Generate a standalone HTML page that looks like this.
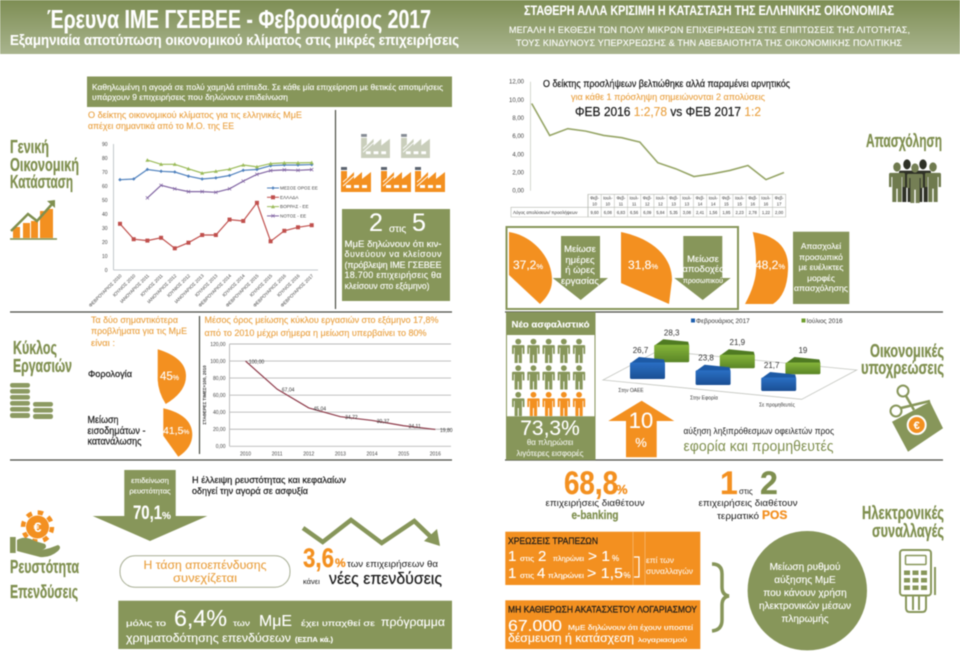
<!DOCTYPE html>
<html lang="el">
<head>
<meta charset="utf-8">
<title>Έρευνα ΙΜΕ ΓΣΕΒΕΕ - Φεβρουάριος 2017</title>
<style>
html,body{margin:0;padding:0;background:#fff;width:960px;height:667px;overflow:hidden}
svg{display:block;filter:blur(.4px)}
text{font-family:"Liberation Sans","Noto Sans CJK SC",sans-serif}
.n{font-family:"Liberation Sans Narrow","Liberation Sans",sans-serif;font-weight:700;stroke:currentColor;stroke-width:.25}
.b{font-weight:700}
.w{fill:#fff;color:#fff;stroke:#fff;stroke-width:.12}
.o{fill:#e9a040;color:#e9a040;stroke:#e9a040;stroke-width:.12}
.ol{fill:#7f8f4f;color:#7f8f4f}
.k{fill:#1a1a1a}
.sb{stroke:#1a1a1a;stroke-width:.22}
.m{text-anchor:middle}
.or{fill:#f39020;color:#f39020}
</style>
</head>
<body>
<svg id="page" xmlns="http://www.w3.org/2000/svg" width="960" height="667" viewBox="0 0 960 667">
<defs>
<linearGradient id="hdr" x1="0" y1="0" x2="0" y2="1"><stop offset="0" stop-color="#7e8e54"/><stop offset="1" stop-color="#a9b48e"/></linearGradient>
<linearGradient id="blueFace" x1="0" y1="0" x2="0" y2="1"><stop offset="0" stop-color="#2a6fc4"/><stop offset="1" stop-color="#1a4f94"/></linearGradient>
<linearGradient id="greenFace" x1="0" y1="0" x2="0" y2="1"><stop offset="0" stop-color="#86b53a"/><stop offset="1" stop-color="#5a8526"/></linearGradient>
<symbol id="person" viewBox="0 0 12 24" preserveAspectRatio="none"><circle cx="6" cy="3" r="2.8"/><path d="M1 6.5H11Q12 6.5 12 7.5V15H10.2V9H9.5V24H6.5V16H5.5V24H2.5V9H1.8V15H0V7.5Q0 6.5 1 6.5Z"/></symbol>
<symbol id="factory" viewBox="0 0 30 25"><rect x="0" y="0" width="6" height="3" fill="#5d6570"/><path d="M0 4H6V12L13 5V12L21 5V12L30 5V25H0Z" fill="currentColor"/><path d="M2 15L6 11.5M2 19L13 9" stroke="#fff" stroke-width=".9"/><rect x="5" y="18" width="5" height="3" fill="#fff"/><rect x="13" y="18" width="5" height="3" fill="#fff"/><rect x="21" y="18" width="5" height="3" fill="#fff"/></symbol>
</defs>

<rect x="0" y="0" width="960" height="54" fill="url(#hdr)"/>
<text class="n w" x="47" y="28" font-size="26" textLength="384" lengthAdjust="spacingAndGlyphs">Έρευνα ΙΜΕ ΓΣΕΒΕΕ - Φεβρουάριος 2017</text>
<text class="w" x="10" y="45" font-size="15" font-weight="700" textLength="449" lengthAdjust="spacingAndGlyphs">Εξαμηνιαία αποτύπωση οικονομικού κλίματος στις μικρές επιχειρήσεις</text>
<text class="n w" x="524" y="15" font-size="13.5" textLength="370" lengthAdjust="spacingAndGlyphs">ΣΤΑΘΕΡΗ ΑΛΛΑ ΚΡΙΣΙΜΗ Η ΚΑΤΑΣΤΑΣΗ ΤΗΣ ΕΛΛΗΝΙΚΗΣ ΟΙΚΟΝΟΜΙΑΣ</text>
<text class="w" x="509" y="33" font-size="9" textLength="401" lengthAdjust="spacing">ΜΕΓΑΛΗ Η ΕΚΘΕΣΗ ΤΩΝ ΠΟΛΥ ΜΙΚΡΩΝ ΕΠΙΧΕΙΡΗΣΕΩΝ ΣΤΙΣ ΕΠΙΠΤΩΣΕΙΣ ΤΗΣ ΛΙΤΟΤΗΤΑΣ,</text>
<text class="w" x="516" y="46" font-size="9" textLength="386" lengthAdjust="spacing">ΤΟΥΣ ΚΙΝΔΥΝΟΥΣ ΥΠΕΡΧΡΕΩΣΗΣ &amp; ΤΗΝ ΑΒΕΒΑΙΟΤΗΤΑ ΤΗΣ ΟΙΚΟΝΟΜΙΚΗΣ ΠΟΛΙΤΙΚΗΣ</text>

<!-- separators -->
<g stroke="#4a4d44" stroke-width="1.2">
<line x1="10" y1="312" x2="452" y2="312"/><line x1="505" y1="312" x2="943" y2="312"/>
<line x1="10" y1="460" x2="452" y2="460"/><line x1="505" y1="460" x2="943" y2="460"/>
<line x1="335.5" y1="110" x2="335.5" y2="309"/><line x1="199.5" y1="316" x2="199.5" y2="454"/>
</g>

<!-- Section 1 -->
<text class="n ol" x="10" y="153" font-size="18.5" textLength="39" lengthAdjust="spacingAndGlyphs">Γενική</text>
<text class="n ol" x="10" y="171" font-size="18.5" textLength="69" lengthAdjust="spacingAndGlyphs">Οικονομική</text>
<text class="n ol" x="10" y="188" font-size="18.5" textLength="63" lengthAdjust="spacingAndGlyphs">Κατάσταση</text>
<g>
<rect x="13" y="227" width="7" height="11" fill="#f39020"/><rect x="23" y="223" width="7" height="15" fill="#f39020"/><rect x="31" y="221" width="7" height="17" fill="#f39020"/><rect x="40" y="211" width="7" height="27" fill="#f39020"/><rect x="47" y="209" width="6" height="29" fill="#f39020"/>
<line x1="10" y1="239" x2="57" y2="239" stroke="#7f8f4f" stroke-width="1.5"/>
<polyline points="11,231 28,214 37,221 53,203" fill="none" stroke="#7f8f4f" stroke-width="2.5"/>
<polygon points="55,200 55,208 47,201" fill="#7f8f4f"/>
</g>
<rect x="87" y="76.5" width="365" height="30.5" fill="#87965a"/>
<text class="w" x="92" y="90" font-size="8.5" textLength="351" lengthAdjust="spacingAndGlyphs">Καθηλωμένη η αγορά σε πολύ χαμηλά επίπεδα. Σε κάθε μία επιχείρηση με θετικές αποτιμήσεις</text>
<text class="w" x="92" y="100" font-size="8.5" textLength="196" lengthAdjust="spacingAndGlyphs">υπάρχουν 9 επιχειρήσεις που δηλώνουν επιδείνωση</text>
<text class="o" x="88" y="118" font-size="9.5" textLength="214" lengthAdjust="spacingAndGlyphs">Ο δείκτης οικονομικού κλίματος για τις ελληνικές ΜμΕ</text>
<text class="o" x="88" y="129" font-size="9.5" textLength="146" lengthAdjust="spacingAndGlyphs">απέχει σημαντικά από το Μ.Ο. της ΕΕ</text>
<g id="climate-chart"></g>

<g>
<use href="#factory" x="361" y="134" width="29" height="24" color="#b7bea4" opacity=".75"/>
<use href="#factory" x="401" y="134" width="29" height="24" color="#b7bea4" opacity=".75"/>
<use href="#factory" x="341" y="167" width="30" height="25" color="#f39020"/>
<use href="#factory" x="381" y="167" width="30" height="25" color="#f39020"/>
<use href="#factory" x="415" y="167" width="30" height="25" color="#f39020"/>
</g>
<rect x="342" y="209" width="108" height="92" fill="#87965a"/>
<text class="w" x="369" y="231" font-size="25">2</text>
<text class="w" x="389" y="232" font-size="10">στις</text>
<text class="w" x="412" y="231" font-size="25">5</text>
<text class="w" x="344.5" y="247" font-size="9" textLength="97" lengthAdjust="spacingAndGlyphs">ΜμΕ δηλώνουν ότι κιν-</text>
<text class="w" x="344.5" y="257" font-size="9" textLength="97" lengthAdjust="spacing">δυνεύουν να κλείσουν</text>
<text class="w" x="344.5" y="268" font-size="9" textLength="97" lengthAdjust="spacing">(πρόβλεψη ΙΜΕ ΓΣΕΒΕΕ</text>
<text class="w" x="344.5" y="278" font-size="9" textLength="97" lengthAdjust="spacing">18.700 επιχειρήσεις θα</text>
<text class="w" x="344.5" y="289" font-size="9" textLength="85" lengthAdjust="spacingAndGlyphs">κλείσουν στο εξάμηνο)</text>

<!-- Employment chart -->
<g id="hiring-chart"></g>
<text class="k sb" x="543" y="87" font-size="10" textLength="247" lengthAdjust="spacingAndGlyphs">Ο δείκτης προσλήψεων βελτιώθηκε αλλά παραμένει αρνητικός</text>
<text class="o" x="571" y="100" font-size="9.5" textLength="194" lengthAdjust="spacingAndGlyphs">για κάθε 1 πρόσληψη σημειώνονται 2 απολύσεις</text>
<text class="k sb" x="575" y="116" font-size="13" textLength="186" lengthAdjust="spacingAndGlyphs">ΦΕΒ 2016 <tspan class="o">1:2,78</tspan> vs ΦΕΒ 2017 <tspan class="o">1:2</tspan></text>
<text class="n ol" x="866" y="147" font-size="18.5" textLength="76" lengthAdjust="spacingAndGlyphs">Απασχόληση</text>
<g>
<use href="#person" x="899" y="159" width="16" height="43" fill="#2e3026"/>
<use href="#person" x="915" y="159" width="16" height="43" fill="#2e3026"/>
<use href="#person" x="889" y="162" width="16" height="40" fill="#6f7a4e"/>
<use href="#person" x="907" y="163" width="16" height="40" fill="#757f55"/>
<use href="#person" x="925" y="162" width="16" height="40" fill="#6f7a4e"/>
</g>
<rect x="506.5" y="227" width="231.5" height="82" fill="none" stroke="#87965a" stroke-width="2"/>
<path d="M509 232C530 235 552 255 552 280C552 290 547 297 540 304L509 275Z" fill="#f39020"/>
<text class="w" x="513" y="269" font-size="12">37,2<tspan font-size="7.5">%</tspan></text>
<path d="M561 236H600V278H608L580.7 300L552.7 278H561Z" fill="#87965a"/>
<text class="w m" x="580" y="252" font-size="9.5">Μείωσε</text>
<text class="w m" x="580" y="263" font-size="9.5">ημέρες</text>
<text class="w m" x="580" y="273" font-size="9.5">ή ώρες</text>
<text class="w m" x="580" y="284" font-size="9.5">εργασίας</text>
<path d="M621 232C650 238 672 255 672 280L669 304L621 283Z" fill="#f39020"/>
<text class="w" x="628" y="269" font-size="12">31,8<tspan font-size="7.5">%</tspan></text>
<path d="M683.3 236H722.3V278H730.7L702.7 300L674.3 278H683.3Z" fill="#87965a"/>
<text class="w m" x="703" y="262" font-size="9.5">Μείωσε</text>
<text class="w m" x="703" y="272" font-size="9.5">αποδοχές</text>
<text class="w m" x="703" y="283" font-size="7">προσωπικού</text>
<path d="M752.7 232Q790 238 788 270Q787 295 773 304L745 304Q758 280 756 262Q756 245 752.7 232Z" fill="#f39020"/>
<text class="w" x="755" y="269" font-size="12">48,2<tspan font-size="7.5">%</tspan></text>
<rect x="793" y="231.7" width="56.3" height="72.3" fill="#87965a"/>
<text class="w m" x="821" y="249" font-size="8.5">Απασχολεί</text>
<text class="w m" x="821" y="260" font-size="8.5">προσωπικό</text>
<text class="w m" x="821" y="270" font-size="8.5">με ευέλικτες</text>
<text class="w m" x="821" y="281" font-size="8.5">μορφές</text>
<text class="w m" x="821" y="291" font-size="8.5" textLength="54" lengthAdjust="spacingAndGlyphs">απασχόλησης</text>

<!-- Section 2 -->
<text class="n ol" x="13" y="354" font-size="18.5" textLength="44" lengthAdjust="spacingAndGlyphs">Κύκλος</text>
<text class="n ol" x="13" y="372" font-size="18.5" textLength="59" lengthAdjust="spacingAndGlyphs">Εργασιών</text>
<g fill="#8c9a62">
<rect x="10" y="383" width="20" height="4.6" rx="2.2"/><rect x="10" y="389" width="20" height="4.6" rx="2.2"/><rect x="10" y="395" width="20" height="4.6" rx="2.2"/><rect x="10" y="401" width="20" height="4.6" rx="2.2"/><rect x="10" y="407" width="20" height="4.6" rx="2.2"/><rect x="10" y="413" width="20" height="5" rx="2.2"/>
<rect x="33" y="402" width="20" height="4.6" rx="2.2"/><rect x="33" y="408" width="20" height="4.6" rx="2.2"/><rect x="33" y="414" width="20" height="5" rx="2.2"/>
</g>
<text class="o" x="91" y="323" font-size="9.5" textLength="87" lengthAdjust="spacingAndGlyphs">Τα δύο σημαντικότερα</text>
<text class="o" x="91" y="334" font-size="9.5" textLength="96" lengthAdjust="spacingAndGlyphs">προβλήματα για τις ΜμΕ</text>
<text class="o" x="91" y="346" font-size="9.5">είναι :</text>
<text class="k sb" x="88" y="377" font-size="9.5" textLength="44" lengthAdjust="spacingAndGlyphs">Φορολογία</text>
<path d="M157.7 349.3Q186 358 186 376Q186 392 165.7 404Q157 390 157.7 376Z" fill="#f39020"/>
<text class="w" x="160" y="380" font-size="11.5">45<tspan font-size="7">%</tspan></text>
<text class="k sb" x="87.5" y="423" font-size="10" textLength="31" lengthAdjust="spacingAndGlyphs">Μείωση</text>
<text class="k sb" x="87.5" y="434" font-size="10" textLength="58" lengthAdjust="spacingAndGlyphs">εισοδημάτων -</text>
<text class="k sb" x="87.5" y="444.5" font-size="10" textLength="54" lengthAdjust="spacingAndGlyphs">κατανάλωσης</text>
<path d="M163.3 408.3Q192.3 415 192.3 435Q192 448 178.3 456.7L163.3 435.7Z" fill="#f39020"/>
<text class="w" x="163" y="434" font-size="10.5">41,5<tspan font-size="6.5">%</tspan></text>
<text class="o" x="204.5" y="323" font-size="9.5" textLength="234" lengthAdjust="spacingAndGlyphs">Μέσος όρος μείωσης κύκλου εργασιών στο εξάμηνο 17,8%</text>
<text class="o" x="204.5" y="336" font-size="9.5" textLength="222" lengthAdjust="spacingAndGlyphs">από το 2010 μέχρι σήμερα η μείωση υπερβαίνει το 80%</text>
<g id="turnover-chart"></g>

<rect x="506.5" y="312.5" width="88.5" height="147" fill="#fff" stroke="#87965a"/>
<rect x="506" y="312" width="89" height="23" fill="#87965a"/>
<text class="w b m" x="550.5" y="327.5" font-size="9" textLength="78" lengthAdjust="spacingAndGlyphs">Νέο ασφαλιστικό</text>
<g id="people-grid"></g>
<rect x="506" y="416.3" width="89" height="43.7" fill="#87965a"/>
<text class="w m" x="550" y="435" font-size="21">73,3%</text>
<text class="w m" x="550" y="445" font-size="8" opacity=".85">θα πληρώσει</text>
<text class="w m" x="550" y="456" font-size="8" opacity=".85">λιγότερες εισφορές</text>
<g id="bars-chart"></g>
<path d="M641.7 400.7L674.3 421H656.7V457.3H626V421H608.3Z" fill="#f39020"/>
<text class="w m" x="641" y="428" font-size="22">10</text>
<text class="w m" x="641" y="447" font-size="13">%</text>
<text class="k" x="683.5" y="434" font-size="9.5" textLength="150.5" lengthAdjust="spacingAndGlyphs">αύξηση ληξιπρόθεσμων οφειλετών προς</text>
<text class="ol" x="683.5" y="451" font-size="15" textLength="150" lengthAdjust="spacingAndGlyphs">εφορία και προμηθευτές</text>
<text class="n ol" x="870" y="357" font-size="18.5" textLength="74" lengthAdjust="spacingAndGlyphs">Οικονομικές</text>
<text class="n ol" x="861" y="374" font-size="18.5" textLength="83" lengthAdjust="spacingAndGlyphs">υποχρεώσεις</text>
<g>
<polygon points="892,421.7 930,401.7 943,428.3 908,451.7" fill="#87965a"/>
<circle cx="916.7" cy="425" r="9" fill="#f39020" stroke="#fff" stroke-width="2"/>
<text class="w b m" x="916.7" y="429" font-size="11">€</text>
<circle cx="903" cy="391" r="5.5" fill="none" stroke="#87965a" stroke-width="2"/>
<circle cx="896" cy="411" r="5.5" fill="none" stroke="#87965a" stroke-width="2"/>
<path d="M906 396L914 410M901 408L930 401" stroke="#87965a" stroke-width="2.5" fill="none"/>
</g>

<!-- Section 3 -->
<g>
<circle cx="37.5" cy="527" r="11.5" fill="#f39020"/>
<circle cx="37.5" cy="527" r="14.5" fill="none" stroke="#f39020" stroke-width="4.5" stroke-dasharray="5.5 5.9"/>
<text class="w b m" x="37.5" y="532" font-size="14">€</text>
<rect x="10" y="537" width="5.7" height="16" fill="#87965a"/>
<path d="M17 540Q25 535 35 541L45 544Q48 548 42 550L50 548L58 545Q62 547 58 551Q50 558 40 557L17 551Z" fill="#87965a"/>
</g>
<text class="n ol" x="10" y="573" font-size="18.5" textLength="69" lengthAdjust="spacingAndGlyphs">Ρευστότητα</text>
<text class="n ol" x="10" y="598" font-size="18.5" textLength="68" lengthAdjust="spacingAndGlyphs">Επενδύσεις</text>
<path d="M124.3 470H175.7V516H207.3L150 541L92.7 516H124.3Z" fill="#87965a"/>
<text class="w m" x="150" y="483" font-size="7.5">επιδείνωση</text>
<text class="w m" x="150" y="493.5" font-size="7.5">ρευστότητας</text>
<text class="n w" x="133" y="519" font-size="19" textLength="29" lengthAdjust="spacingAndGlyphs">70,1</text>
<text class="n w" x="162" y="519" font-size="10">%</text>
<text class="k sb" x="192" y="483" font-size="9.5" textLength="154" lengthAdjust="spacingAndGlyphs">Η έλλειψη ρευστότητας και κεφαλαίων</text>
<text class="k sb" x="192" y="494" font-size="9.5" textLength="116" lengthAdjust="spacingAndGlyphs">οδηγεί την αγορά σε ασφυξία</text>
<rect x="120" y="555.7" width="170" height="31.5" rx="15" fill="#fff" stroke="#a7ae94"/>
<text class="o m" x="205" y="569" font-size="12" textLength="123" lengthAdjust="spacingAndGlyphs">Η τάση αποεπένδυσης</text>
<text class="o m" x="205" y="582" font-size="12" textLength="64" lengthAdjust="spacingAndGlyphs">συνεχίζεται</text>
<g>
<polyline points="303,528 322.7,542 351,520 381.7,543 414.3,521 432,538" fill="none" stroke="#87965a" stroke-width="4.5"/>
<polygon points="440,546 437,529 424,541" fill="#87965a"/>
</g>
<text class="n or" x="303" y="567" font-size="27" textLength="31" lengthAdjust="spacingAndGlyphs">3,6</text>
<text class="n or" x="335" y="567" font-size="12">%</text>
<text class="k" x="347" y="567" font-size="9" textLength="91" lengthAdjust="spacingAndGlyphs">των επιχειρήσεων θα</text>
<text class="k" x="303" y="584" font-size="7.5">κάνει</text>
<text class="k sb" x="329" y="584" font-size="17" textLength="113" lengthAdjust="spacingAndGlyphs">νέες επενδύσεις</text>
<rect x="118.3" y="600.7" width="333.7" height="48.3" fill="#87965a"/>
<text class="w" x="126" y="626" font-size="8" textLength="40" lengthAdjust="spacingAndGlyphs">μόλις το</text>
<text class="w" x="174" y="626" font-size="23" textLength="53" lengthAdjust="spacingAndGlyphs">6,4%</text>
<text class="w" x="233" y="626" font-size="8" textLength="17" lengthAdjust="spacingAndGlyphs">των</text>
<text class="w" x="259" y="626" font-size="16" textLength="33" lengthAdjust="spacingAndGlyphs">ΜμΕ</text>
<text class="w" x="301" y="626" font-size="8" textLength="74" lengthAdjust="spacingAndGlyphs">έχει υπαχθεί σε</text>
<text class="w" x="381" y="626" font-size="12" textLength="64" lengthAdjust="spacingAndGlyphs">πρόγραμμα</text>
<text class="w" x="126" y="642" font-size="12" textLength="165" lengthAdjust="spacingAndGlyphs">χρηματοδότησης επενδύσεων</text>
<text class="w" x="295" y="642" font-size="7.5" font-weight="700">(ΕΣΠΑ κά.)</text>

<text class="n or" x="564" y="494" font-size="32" textLength="54" lengthAdjust="spacingAndGlyphs">68,8</text>
<text class="n or" x="616" y="494" font-size="13">%</text>
<text class="k m" x="595" y="506" font-size="9.5" textLength="99" lengthAdjust="spacingAndGlyphs">επιχειρήσεις διαθέτουν</text>
<text class="n ol m" x="595" y="519" font-size="12" textLength="47" lengthAdjust="spacingAndGlyphs">e-banking</text>
<text class="n or" x="720" y="494" font-size="32">1</text>
<text class="k" x="739" y="494" font-size="8">στις</text>
<text class="n ol" x="760" y="494" font-size="32">2</text>
<text class="k m" x="748" y="506" font-size="9.5" textLength="99" lengthAdjust="spacingAndGlyphs">επιχειρήσεις διαθέτουν</text>
<text class="k" x="717" y="519" font-size="9" textLength="42" lengthAdjust="spacingAndGlyphs">τερματικό</text>
<text class="n or" x="762" y="519" font-size="12">POS</text>
<rect x="505.3" y="531.7" width="195" height="53.3" fill="#f39020"/>
<text class="k sb" x="508" y="544" font-size="9" textLength="90" lengthAdjust="spacingAndGlyphs">ΧΡΕΩΣΕΙΣ ΤΡΑΠΕΖΩΝ</text>
<text class="w" x="508" y="561" font-size="15">1</text>
<text class="w" x="520" y="561" font-size="7" textLength="14" lengthAdjust="spacingAndGlyphs">στις</text>
<text class="w" x="538" y="561" font-size="15">2</text>
<text class="w" x="553" y="561" font-size="7" textLength="31" lengthAdjust="spacingAndGlyphs">πληρώνει</text>
<text class="w" x="588" y="561" font-size="15" textLength="22" lengthAdjust="spacingAndGlyphs">&gt; 1</text>
<text class="w" x="612" y="561" font-size="8">%</text>
<text class="w" x="508" y="578" font-size="15">1</text>
<text class="w" x="520" y="578" font-size="7" textLength="14" lengthAdjust="spacingAndGlyphs">στις</text>
<text class="w" x="537" y="578" font-size="15">4</text>
<text class="w" x="548" y="578" font-size="7.5" textLength="36" lengthAdjust="spacingAndGlyphs">πληρώνει</text>
<text class="w" x="587" y="578" font-size="15" textLength="36" lengthAdjust="spacingAndGlyphs">&gt; 1,5</text>
<text class="w" x="623.5" y="578" font-size="8">%</text>
<path d="M634 557H639V577H634" fill="none" stroke="#fff" stroke-width="1.2"/>
<line x1="633" y1="532" x2="633" y2="585" stroke="#f7ad5c"/>
<line x1="645" y1="532" x2="645" y2="585" stroke="#f7ad5c"/>
<text class="w" x="646" y="563" font-size="8" textLength="28" lengthAdjust="spacingAndGlyphs" opacity=".85">επί των</text>
<text class="w" x="646" y="574" font-size="8" textLength="47" lengthAdjust="spacingAndGlyphs" opacity=".85">συναλλαγών</text>
<rect x="505.3" y="600.3" width="195" height="48.7" fill="#f39020"/>
<text class="k sb" x="508" y="612.7" font-size="9" textLength="189" lengthAdjust="spacingAndGlyphs">ΜΗ ΚΑΘΙΕΡΩΣΗ ΑΚΑΤΑΣΧΕΤΟΥ ΛΟΓΑΡΙΑΣΜΟΥ</text>
<text class="w" x="508" y="631" font-size="15.5" textLength="54" lengthAdjust="spacingAndGlyphs">67.000</text>
<text class="w" x="568" y="630" font-size="7" textLength="125" lengthAdjust="spacingAndGlyphs">ΜμΕ δηλώνουν ότι έχουν υποστεί</text>
<text class="w" x="508" y="642" font-size="12" textLength="126" lengthAdjust="spacingAndGlyphs">δέσμευση ή κατάσχεση</text>
<text class="w" x="638" y="642" font-size="6.5" textLength="49" lengthAdjust="spacingAndGlyphs">λογαριασμού</text>
<path d="M712 564Q722 564 722 574V587Q722 595 729 596Q722 597 722 605V620Q722 630 712 631" fill="none" stroke="#87965a" stroke-width="3.5"/>
<circle cx="807.3" cy="590.7" r="59.7" fill="#87965a"/>
<text class="w m" x="805" y="570" font-size="10">Μείωση ρυθμού</text>
<text class="w m" x="805" y="583" font-size="10">αύξησης ΜμΕ</text>
<text class="w m" x="805" y="596" font-size="10">που κάνουν χρήση</text>
<text class="w m" x="805" y="609" font-size="10">ηλεκτρονικών μέσων</text>
<text class="w m" x="805" y="622" font-size="10">πληρωμής</text>
<text class="n ol" x="862" y="519" font-size="18.5" textLength="82" lengthAdjust="spacingAndGlyphs">Ηλεκτρονικές</text>
<text class="n ol" x="872" y="537" font-size="18.5" textLength="72" lengthAdjust="spacingAndGlyphs">συναλλαγές</text>
<g fill="#87965a">
<rect x="900" y="550" width="31" height="45.5" rx="3" fill="none" stroke="#87965a" stroke-width="2"/>
<rect x="905.5" y="555.5" width="20.5" height="9" rx="1" fill="none" stroke="#87965a" stroke-width="1.5"/>
<rect x="904" y="570.5" width="6" height="4.5"/><rect x="912.5" y="570.5" width="6" height="4.5"/><rect x="921" y="570.5" width="6" height="4.5"/>
<rect x="904" y="578" width="6" height="4.5"/><rect x="912.5" y="578" width="6" height="4.5"/><rect x="921" y="578" width="6" height="4.5"/>
<rect x="904" y="585.5" width="6" height="4.5"/><rect x="912.5" y="585.5" width="6" height="4.5"/><rect x="921" y="585.5" width="6" height="4.5"/>
<path d="M906 596V608Q906 612 910 612H922Q926 612 926 608V596M913 596V610M919 596V610" fill="none" stroke="#87965a" stroke-width="2"/>
<line x1="935" y1="567" x2="935" y2="595" stroke="#87965a" stroke-width="2"/>
</g>
</svg>

<script>
var SVGNS = 'http://www.w3.org/2000/svg';

/* Climate index chart data */
var climateCategories = ['ΦΕΒΡΟΥΑΡΙΟΣ 2010','ΙΟΥΛΙΟΣ 2010','ΙΑΝΟΥΑΡΙΟΣ 2011','ΙΟΥΛΙΟΣ 2011','ΙΑΝΟΥΑΡΙΟΣ 2012','ΙΟΥΝΙΟΣ 2012','ΙΑΝΟΥΑΡΙΟΣ 2013','ΙΟΥΛΙΟΣ 2013','ΦΕΒΡΟΥΑΡΙΟΣ 2014','ΙΟΥΛΙΟΣ 2014','ΦΕΒΡΟΥΑΡΙΟΣ 2015','ΙΟΥΛΙΟΣ 2015','ΦΕΒΡΟΥΑΡΙΟΣ 2016','ΙΟΥΛΙΟΣ 2016','ΦΕΒΡΟΥΑΡΙΟΣ 2017'];
var climateTicks = [0,10,20,30,40,50,60,70,80,90];
var climateEU = [64.5,65,71.8,70.5,70,67,65,65.8,67.5,71.2,71.8,74.5,75,75,75.3];
var climateGreece = [33,22,21,23,15.5,19.5,25,25,36,35,48,20.5,28,30.5,32];
var climateNorth = [null,null,78.5,75.5,75.5,72.3,69.2,70.5,72,75,73.7,76,76.5,76.5,76.7];
var climateSouth = [null,null,51.5,60.5,58,56,56,55.5,58,63.5,68.3,71,71.5,71.2,71.7];
var climateSeriesNames = ['ΜΕΣΟΣ ΟΡΟΣ ΕΕ','ΕΛΛΑΔΑ','ΒΟΡΡΑΣ - ΕΕ','ΝΟΤΟΣ - ΕΕ'];

/* Hiring ratio chart data */
var hiringPeriods = ['Φεβ-10','Ιουλ-10','Φεβ-11','Ιουλ-11','Φεβ-12','Ιουλ-12','Φεβ-13','Ιουλ-13','Φεβ-14','Ιουλ-14','Φεβ-15','Ιουλ-15','Φεβ-16','Ιουλ-16','Φεβ-17'];
var hiringRatios = [9.6,6.08,6.83,6.56,6.09,5.84,5.35,3.08,2.41,1.56,1.85,2.23,2.78,1.22,2.0];
var hiringTicks = [0,2,4,6,8,10,12];
var hiringRowLabel = 'Λόγος απολύσεων/ προσλήψεων';

/* Turnover chart data */
var turnoverYears = ['2010','2011','2012','2013','2014','2015','2016'];
var turnoverValues = [100,67.04,45.04,34.72,30.37,24.11,19.8];
var turnoverTicks = [0,20,40,60,80,100,120];
var turnoverAxisTitle = 'ΣΤΑΘΕΡΕΣ ΤΙΜΕΣ=100, 2010';

/* Obligations 3D chart data */
var obligationCategories = ['Στην ΟΑΕΕ','Στην Εφορία','Σε προμηθευτές'];
var obligationFeb2017 = [26.7,23.8,21.7];
var obligationJul2016 = [28.3,21.9,19];
var obligationSeriesNames = ['Φεβρουάριος 2017','Ιούλιος 2016'];

/* Insurance pictogram data */
var peopleTotal = 15;
var peopleHighlighted = 4;

function fmt(v){ return v.toFixed(2).replace('.', ','); }
function add(parent, tag){
  var el = document.createElementNS(SVGNS, tag);
  parent.appendChild(el);
  return el;
}
function set(el, map){
  for (var k in map) el.setAttribute(k, map[k]);
  return el;
}

/* ---------- Climate chart ---------- */
(function(){
  var g = document.getElementById('climate-chart');
  var x = function(i){ return 120 + i * (311.7 - 120) / (climateCategories.length - 1); };
  var y = function(v){ return 270 - v * 1.4; };
  var yAxis = add(g, 'line');
  set(yAxis, {x1:113.5, y1:y(90), x2:113.5, y2:y(0), stroke:'#c4c8cc', 'stroke-width':1});
  
  
  var xAxis = add(g, 'line');
  set(xAxis, {x1:113.5, y1:y(0), x2:318, y2:y(0), stroke:'#c4c8cc', 'stroke-width':1});
  
  
  climateTicks.forEach(function(t){
    var el = add(g, 'text');
    set(el, {x:107.5, y:y(t) + 1.8, 'font-size':5, fill:'#444', 'text-anchor':'end'});
    el.textContent = t;
    
    
  });
  climateCategories.forEach(function(c, i){
    var el = add(g, 'text');
    var tx = x(i) + 2, ty = 276;
    set(el, {x:tx, y:ty, 'font-size':4.6, fill:'#444', 'text-anchor':'end', transform:'rotate(-45 ' + tx + ' ' + ty + ')'});
    el.textContent = c;
    
    
  });
  var series = [
    {vals:climateEU, color:'#4f81bd', key:'eu', marker:'diamond'},
    {vals:climateGreece, color:'#c0504d', key:'greece', marker:'square'},
    {vals:climateNorth, color:'#9bbb59', key:'north', marker:'triangle'},
    {vals:climateSouth, color:'#8064a2', key:'south', marker:'cross'}
  ];
  function marker(s, px, py, parent){
    var m;
    if (s.marker === 'square') {
      m = add(parent, 'rect');
      set(m, {x:px - 2, y:py - 2, width:4, height:4, fill:s.color});
    } else if (s.marker === 'diamond') {
      m = add(parent, 'polygon');
      set(m, {points:(px - 1.8) + ',' + py + ' ' + px + ',' + (py - 1.8) + ' ' + (px + 1.8) + ',' + py + ' ' + px + ',' + (py + 1.8), fill:s.color});
    } else if (s.marker === 'triangle') {
      m = add(parent, 'polygon');
      set(m, {points:(px - 2) + ',' + (py + 1.6) + ' ' + px + ',' + (py - 2) + ' ' + (px + 2) + ',' + (py + 1.6), fill:s.color});
    } else {
      m = add(parent, 'path');
      set(m, {d:'M' + (px - 1.6) + ' ' + (py - 1.6) + 'L' + (px + 1.6) + ' ' + (py + 1.6) + 'M' + (px + 1.6) + ' ' + (py - 1.6) + 'L' + (px - 1.6) + ' ' + (py + 1.6), stroke:s.color, 'stroke-width':.7, fill:'none'});
    }
    
    
  }
  series.forEach(function(s, si){
    var pts = [];
    s.vals.forEach(function(v, i){ if (v !== null) pts.push(x(i) + ',' + y(v)); });
    var line = add(g, 'polyline');
    set(line, {points:pts.join(' '), fill:'none', stroke:s.color, 'stroke-width':1.2});
    
    
    s.vals.forEach(function(v, i){ if (v !== null) marker(s, x(i), y(v), g); });
    var ly = 188 + si * 9.3;
    var ll = add(g, 'line');
    set(ll, {x1:267, y1:ly, x2:279, y2:ly, stroke:s.color, 'stroke-width':1});
    
    
    marker(s, 273, ly, g);
    var lt = add(g, 'text');
    set(lt, {x:280, y:ly + 1.6, 'font-size':4.6, fill:'#444'});
    lt.textContent = climateSeriesNames[si];
    
    
  });
})();

/* ---------- Hiring chart ---------- */
(function(){
  var g = document.getElementById('hiring-chart');
  var x = function(i){ return 531.7 + i * (784 - 531.7) / (hiringRatios.length - 1); };
  var y = function(v){ return 190.7 - v * 9.08; };
  var axis = add(g, 'line');
  set(axis, {x1:530.5, y1:y(12), x2:530.5, y2:y(0), stroke:'#d5d8d0', 'stroke-width':1});
  
  
  hiringTicks.forEach(function(t){
    var el = add(g, 'text');
    set(el, {x:524, y:y(t) + 2, 'font-size':6, fill:'#444', 'text-anchor':'end'});
    el.textContent = fmt(t);
    
    
  });
  var pts = hiringRatios.map(function(v, i){ return x(i) + ',' + y(v); }).join(' ');
  var line = add(g, 'polyline');
  set(line, {points:pts, fill:'none', stroke:'#96a566', 'stroke-width':1.6});
  
  

  var tx = function(i){ return 588 + i * 13.18; };
  var outer = add(g, 'path');
  set(outer, {d:'M511 207.3H785.7V217H511ZM588 194.3H785.7V217H588Z', fill:'none', stroke:'#b5b8b0', 'stroke-width':.6});
  
  
  var rowLabel = add(g, 'text');
  set(rowLabel, {x:513, y:214, 'font-size':4.4, fill:'#333'});
  rowLabel.textContent = hiringRowLabel;
  
  
  hiringPeriods.forEach(function(p, i){
    var sep = add(g, 'line');
    set(sep, {x1:tx(i), y1:194.3, x2:tx(i), y2:217, stroke:'#b5b8b0', 'stroke-width':.5});
    
    
    var parts = p.split('-');
    var h1 = add(g, 'text');
    set(h1, {x:tx(i) + 6.6, y:199.5, 'font-size':4.2, fill:'#333', 'text-anchor':'middle'});
    h1.textContent = parts[0] + '-';
    
    
    var h2 = add(g, 'text');
    set(h2, {x:tx(i) + 6.6, y:205.5, 'font-size':4.2, fill:'#333', 'text-anchor':'middle'});
    h2.textContent = parts[1];
    
    
    var val = add(g, 'text');
    set(val, {x:tx(i) + 6.6, y:214, 'font-size':4.2, fill:'#333', 'text-anchor':'middle'});
    val.textContent = fmt(hiringRatios[i]);
    
    
  });
})();

/* ---------- Turnover chart ---------- */
(function(){
  var g = document.getElementById('turnover-chart');
  var x = function(i){ return 245.5 + i * (435.3 - 245.5) / (turnoverValues.length - 1); };
  var y = function(v){ return 446.3 - v * 0.8525; };
  var left = add(g, 'line');
  set(left, {x1:229.5, y1:y(120), x2:229.5, y2:y(0), stroke:'#bbb', 'stroke-width':1});
  
  
  turnoverTicks.forEach(function(t){
    var gl = add(g, 'line');
    set(gl, {x1:229.5, y1:y(t), x2:451, y2:y(t), stroke:'#b9b9b9', 'stroke-width':.9});
    
    
    var el = add(g, 'text');
    set(el, {x:225.5, y:y(t) + 1.8, 'font-size':5, fill:'#444', 'text-anchor':'end'});
    el.textContent = fmt(t);
    
    
  });
  turnoverYears.forEach(function(t, i){
    var el = add(g, 'text');
    set(el, {x:x(i), y:455.5, 'font-size':5, fill:'#444', 'text-anchor':'middle'});
    el.textContent = t;
    
    
  });
  var title = add(g, 'text');
  set(title, {x:206, y:395, 'font-size':4.4, 'font-weight':700, fill:'#333', 'text-anchor':'middle', transform:'rotate(-90 206 395)'});
  title.textContent = turnoverAxisTitle;
  
  
  var pts = turnoverValues.map(function(v, i){ return x(i) + ',' + y(v); }).join(' ');
  var line = add(g, 'polyline');
  set(line, {points:pts, fill:'none', stroke:'#8e3b4a', 'stroke-width':1.2});
  
  
  turnoverValues.forEach(function(v, i){
    var el = add(g, 'text');
    set(el, {x:x(i) + 11, y:y(v) + 2.5, 'font-size':5, fill:'#333', 'text-anchor':'middle'});
    el.textContent = fmt(v);
    
    
  });
})();

/* ---------- 3D bars ---------- */
(function(){
  var g = document.getElementById('bars-chart');
  var floor = add(g, 'polygon');
  set(floor, {points:'603,380 658.3,350.7 856.7,370 801.7,399.3', fill:'#fff', stroke:'#c4c6c0', 'stroke-width':.8});
  
  
  var baseX = function(c, s){ return 647.5 + 65.6 * c + 24.2 * s; };
  var baseY = function(c, s){ return 379 + 6 * c - 16.7 * s; };
  var h = function(v){ return v * 0.62; };
  var w = 35;
  function bar(v, c, s, face, top, key){
    var cx = baseX(c, s), by = baseY(c, s), ty = by - h(v);
    var l = cx - w / 2, r = cx + w / 2;
    var tp = add(g, 'polygon');
    set(tp, {points:l + ',' + (ty + 1) + ' ' + (l + 9) + ',' + (ty - 5.5) + ' ' + (r - 1) + ',' + (ty - 3) + ' ' + r + ',' + (ty + 1), fill:top});
    
    
    var fr = add(g, 'rect');
    set(fr, {x:l, y:ty, width:w, height:h(v), rx:1.5, fill:face});
    
    
    var lb = add(g, 'text');
    set(lb, {x:cx - 7 + s * 7, y:ty - 9.5, 'font-size':8, fill:'#333', 'text-anchor':'middle'});
    lb.textContent = String(v).replace('.', ',');
    
    
  }
  obligationCategories.forEach(function(c, i){
    bar(obligationJul2016[i], i, 1, 'url(#greenFace)', '#4f7a22', 'july-2016-' + i);
  });
  obligationCategories.forEach(function(c, i){
    bar(obligationFeb2017[i], i, 0, 'url(#blueFace)', '#1d5aa6', 'feb-2017-' + i);
    var lb = add(g, 'text');
    set(lb, {x:631 + i * 73, y:392 + i * 7.3, 'font-size':5, fill:'#333', 'text-anchor':'middle'});
    lb.textContent = c;
    
    
  });
  obligationSeriesNames.forEach(function(n, i){
    var px = i === 0 ? 691 : 801.5;
    var sw = add(g, 'rect');
    set(sw, {x:px, y:318.5, width:4, height:4, fill:i === 0 ? '#1f5fae' : '#6f9e2e'});
    
    
    var t = add(g, 'text');
    set(t, {x:px + 5, y:323, 'font-size':6.4, fill:'#333'});
    t.textContent = n;
    
    
  });
})();

/* ---------- People grid ---------- */
(function(){
  var g = document.getElementById('people-grid');
  for (var i = 0; i < peopleTotal; i++) {
    var col = i % 5, row = Math.floor(i / 5);
    var orange = i >= peopleTotal - peopleHighlighted;
    var u = add(g, 'use');
    u.setAttribute('href', '#person');
    set(u, {x:512 + col * 15.2, y:338.5 + row * 26.6, width:12.5, height:24.5, fill:orange ? '#f39020' : '#87965a'});
    
    
  }
})();
</script>
</body>
</html>
